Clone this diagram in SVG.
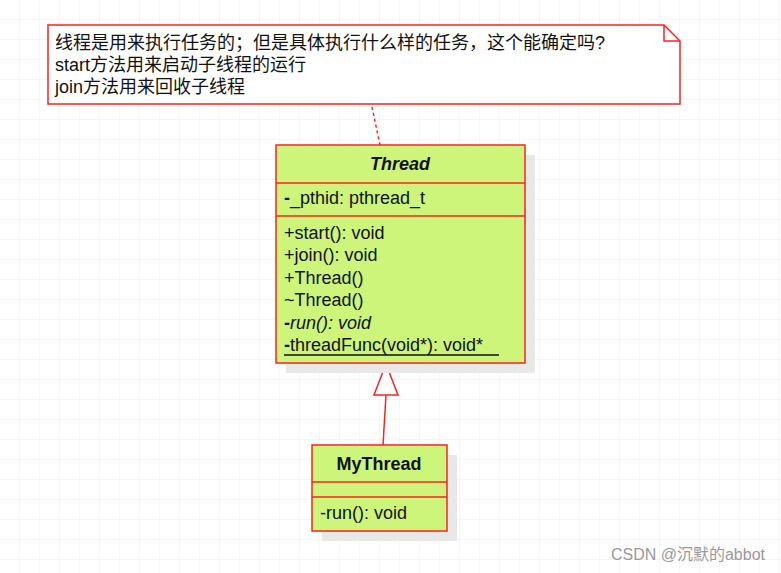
<svg xmlns="http://www.w3.org/2000/svg" width="781" height="573" viewBox="0 0 781 573">
<defs>
<pattern id="grid" width="20" height="20" patternUnits="userSpaceOnUse"><path d="M20 0V20H0" fill="none" stroke="#ececec" stroke-width="1"/></pattern>
<style>
.t{font-family:"Liberation Sans","Noto Sans CJK SC",sans-serif;font-size:18px;fill:#111}
.box{fill:#ccf57a;stroke:#ff2020;stroke-width:1.5}
.sh{fill:#e8e8e8}
.ln{stroke:#ff2020;stroke-width:1.5;fill:none}
</style>
</defs>
<rect width="781" height="573" fill="#fff"/>
<rect width="781" height="573" fill="url(#grid)"/>
<g id="note">
<path d="M48 25H664L680 41V104H48Z" fill="#fff" stroke="#ff2020" stroke-width="1.5"/>
<path d="M664 25V41H680" class="ln"/>
<text class="t" x="55" y="49">线程是用来执行任务的；但是具体执行什么样的任务，这个能确定吗?</text>
<text class="t" x="55" y="71">start方法用来启动子线程的运行</text>
<text class="t" x="55" y="93">join方法用来回收子线程</text>
</g>
<g id="connectors">
<path d="M372 107L380 145" class="ln" stroke-dasharray="3,3"/>
<path d="M383 445L386 395" class="ln"/>
<path d="M386 364L374 395H398Z" fill="#fff" stroke="#ff2020" stroke-width="1.5"/>
</g>
<g id="Thread">
<rect class="sh" x="286" y="155" width="249" height="218"/>
<rect class="box" x="276" y="145" width="249" height="218"/>
<path d="M276 183H525M276 216H525" class="ln"/>
<text class="t" x="400" y="170" text-anchor="middle" font-weight="bold" font-style="italic">Thread</text>
<text class="t" x="284" y="204"><tspan font-weight="bold">-</tspan>_pthid: pthread_t</text>
<text class="t" x="284" y="239">+start(): void</text>
<text class="t" x="284" y="261">+join(): void</text>
<text class="t" x="284" y="284">+Thread()</text>
<text class="t" x="284" y="306">~Thread()</text>
<text class="t" x="284" y="329" font-style="italic"><tspan font-weight="bold">-</tspan>run(): void</text>
<text class="t" x="284" y="351"><tspan font-weight="bold">-</tspan>threadFunc(void*): void*</text>
<path d="M284 355H499" stroke="#111" stroke-width="1.5"/>
</g>
<g id="MyThread">
<rect class="sh" x="322" y="455" width="135" height="86"/>
<rect class="box" x="312" y="445" width="135" height="86"/>
<path d="M312 482H447M312 497H447" class="ln"/>
<text class="t" x="379" y="470" text-anchor="middle" font-weight="bold">MyThread</text>
<text class="t" x="320" y="519">-run(): void</text>
</g>
<text x="765" y="560" text-anchor="end" font-family="'Liberation Sans','Noto Sans CJK SC',sans-serif" font-size="16" fill="#999">CSDN @沉默的abbot</text>
</svg>
